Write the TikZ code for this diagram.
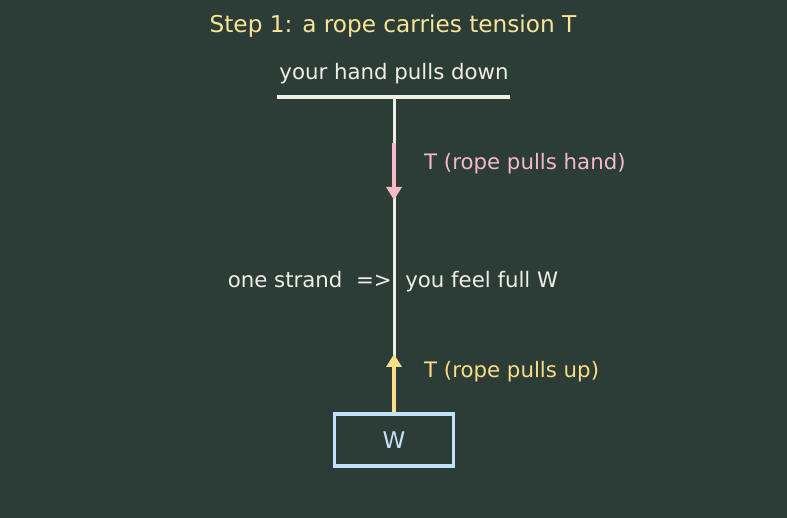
\documentclass[tikz,border=0pt]{standalone}
\usepackage{fontspec}
\setmainfont{DejaVu Sans}
\usetikzlibrary{arrows.meta}
\definecolor{bg}{RGB}{44,60,54}
\definecolor{offwhite}{RGB}{238,238,228}
\definecolor{titley}{RGB}{250,228,150}
\definecolor{pinkc}{RGB}{245,185,200}
\definecolor{yelc}{RGB}{250,222,135}
\definecolor{bluec}{RGB}{195,225,250}
\tikzset{
  lbl/.style={font=\fontsize{21.3}{25}\selectfont, inner sep=0pt},
  force/.style={line width=3.5pt, arrows={-Triangle[length=13pt 0 0,width=15pt 0 0]}},
}
\begin{document}
\begin{tikzpicture}[x=1pt,y=-1pt]
\fill[bg] (0,0) rectangle (787,518);
\useasboundingbox (0,0) rectangle (787,518);
\node[lbl, text=titley, font=\fontsize{23.2}{27}\selectfont] (title) at (393,26) {Step 1: a rope carries tension T};
\node[lbl, text=offwhite] (hand) at (394,74) {your hand pulls down};
\coordinate (barL) at (277,97);
\coordinate (barR) at (510,97);
\coordinate (barC) at (394,97);
\draw[offwhite, line width=4.5pt] (barL) -- (barR);
\node[draw=bluec, line width=3.5pt, minimum width=119pt, minimum height=52pt, inner sep=0pt] (box) at (394,440) {};
\node[lbl, text=bluec, font=\fontsize{23}{26}\selectfont] (W) at (box.center) {W};
\draw[offwhite, line width=3pt] (barC) -- (box.north);
\coordinate (p1) at (394,143);
\coordinate (p2) at (394,200);
\draw[force, pinkc] (p1) -- (p2);
\node[lbl, text=pinkc, anchor=west] (tp) at (424,164) {T (rope pulls hand)};
\coordinate (y2) at (394,354);
\draw[force, yelc] (box.north) -- (y2);
\node[lbl, text=yelc, anchor=west] (ty) at (424,372) {T (rope pulls up)};
\node[lbl, text=offwhite] (mid) at (393,282) {one strand\ \ =>\ \ you feel full W};
\end{tikzpicture}
\end{document}
